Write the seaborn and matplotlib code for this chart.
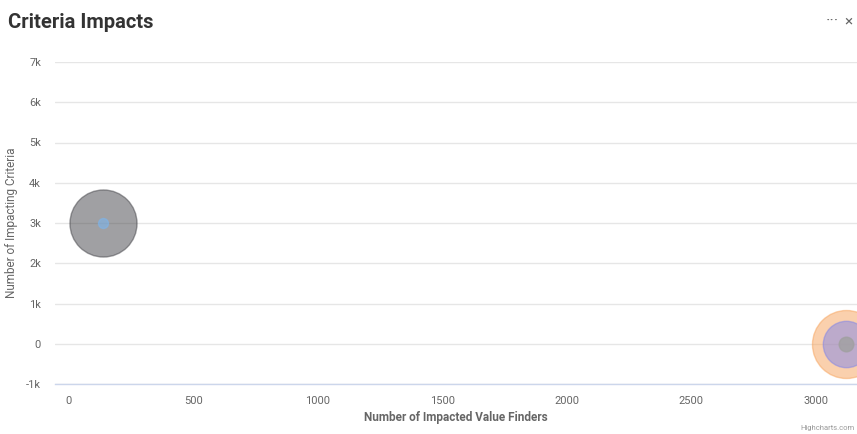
import matplotlib
matplotlib.use("Agg")
import matplotlib.pyplot as plt
import seaborn as sns
import pandas as pd
import numpy as np
from matplotlib.ticker import FuncFormatter

sns.set_theme(style="white")
plt.rcParams['font.family'] = ['Roboto', 'DejaVu Sans']

# ---- data ----
series = ["Series 1", "Series 2", "Series 3", "Series 4", "Series 5"]
x_vals = [137, 137, 3120, 3120, 3120]
y_vals = [3000, 3000, 0, 0, 0]
z_vals = [1, 37, 2, 18, 38]
colors = ["#7cb5ec", "#434348", "#a0a0a0", "#8085e9", "#f7a35c"]
draw_order = [1, 0, 4, 3, 2]

title = "Criteria Impacts"
x_label = "Number of Impacted Value Finders"
y_label = "Number of Impacting Criteria"
x_ticks = [0, 500, 1000, 1500, 2000, 2500, 3000]
y_ticks = [-1000, 0, 1000, 2000, 3000, 4000, 5000, 6000, 7000]

df = pd.DataFrame({"series": series, "x": x_vals, "y": y_vals, "z": z_vals})
df = df.iloc[draw_order].reset_index(drop=True)

W, H, DPI = 857, 434, 100
fig = plt.figure(figsize=(W / DPI, H / DPI), dpi=DPI)
ax = fig.add_axes([55 / W, 1 - 384 / H, (857 - 55) / W, (384 - 62) / H])

# bubble diameter in px: min 10 px, max 68 px (by sqrt of z)
zmin, zmax = min(z_vals), max(z_vals)
def diam_px(z):
    return 10 + (68 - 10) * (np.sqrt(z) - np.sqrt(zmin)) / (np.sqrt(zmax) - np.sqrt(zmin))
size_map = {s: (diam_px(z) * 72 / DPI) ** 2 for s, z in zip(series, z_vals)}
pal = dict(zip(series, colors))

for _, row in df.iterrows():
    sub = df[df.series == row.series]
    alpha = {"Series 1": 0.6, "Series 3": 0.8}.get(row.series, 0.5)
    sns.scatterplot(data=sub, x="x", y="y", hue="series", palette=pal,
                    size="series", sizes=size_map, legend=False, ax=ax,
                    alpha=alpha, edgecolor=pal[row.series], linewidth=1,
                    clip_on=True, zorder=3)

ax.set_xlim(-56, 3165)
ax.set_ylim(-1000, 7000)
ax.set_xticks(x_ticks)
ax.set_yticks(y_ticks)

def kfmt(v, pos):
    if v == 0:
        return "0"
    return f"{int(v/1000)}k"
ax.yaxis.set_major_formatter(FuncFormatter(kfmt))

ax.grid(axis="y", color="#e6e6e6", linewidth=1)
ax.grid(axis="x", visible=False)
for side in ["top", "right", "left"]:
    ax.spines[side].set_visible(False)
ax.spines["bottom"].set_color("#ccd6eb")
ax.spines["bottom"].set_linewidth(1)
ax.tick_params(axis="x", colors="#ccd6eb", length=8, width=1, labelcolor="#666666",
               labelsize=8, pad=1)
ax.tick_params(axis="y", length=0, labelcolor="#666666", labelsize=8, pad=10)

ax.set_xlabel(x_label, fontsize=8.5, color="#666666", fontweight="bold", labelpad=3)
ax.set_ylabel(y_label, fontsize=8.5, color="#666666", labelpad=6)

fig.text(8 / W, 1 - 22 / H, title, fontsize=14.5, fontweight="bold", color="#333333",
         ha="left", va="center")
fig.text(832 / W, 1 - 21 / H, "···", fontsize=12, color="#666666", ha="center", va="center")
fig.text(848 / W, 1 - 22 / H, "×", fontsize=11, color="#666666", ha="center", va="center")
fig.text(855 / W, 1 - 428 / H, "Highcharts.com", fontsize=5.5, color="#999999",
         ha="right", va="center")

fig.savefig("out.png", dpi=DPI, facecolor="white")
